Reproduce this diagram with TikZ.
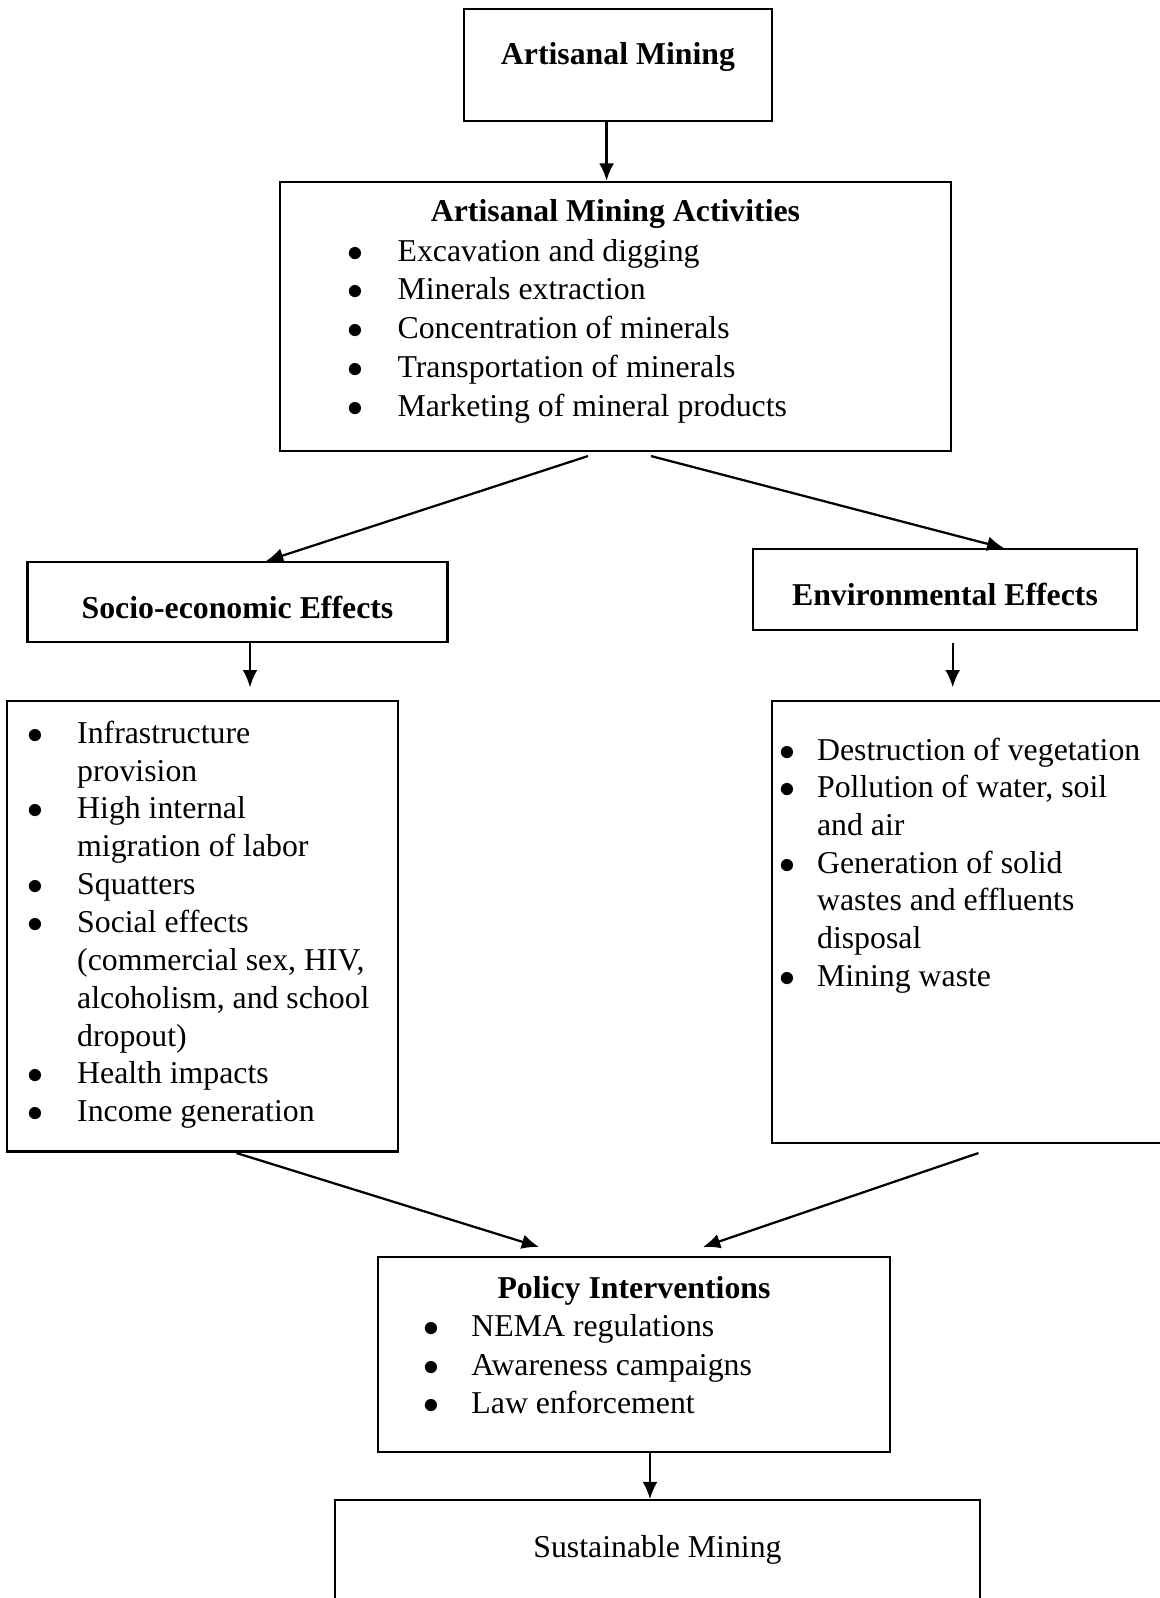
\documentclass[tikz,border=0pt]{standalone}
\usepackage{fontspec}
\setmainfont{Liberation Serif}
\usetikzlibrary{arrows.meta,calc}

\newcommand{\bitem}[2]{\hbox{\makebox[#1][l]{$\bullet$}#2}}
\newcommand{\citem}[2]{\hbox{\hspace*{#1}#2}}

\begin{document}
\begin{tikzpicture}[x=0.3774pt, y=-0.3774pt,
	every node/.style={inner sep=0pt, font=\fontsize{12}{14.4}\selectfont},
	title/.style={font=\fontsize{12}{14.4}\selectfont\bfseries},
	box/.style={rectangle, draw, line width=0.8pt},
	flow/.style={draw, line width=0.85pt, -{Latex[length=6.5pt,width=5.6pt]}}
]
\useasboundingbox (0,0) rectangle (1160,1598);
\clip (0,0) rectangle (1160,1598);
% boxes
\node (mining) [box, minimum width=116.2pt, minimum height=42.3pt] at (618, 65) {};
\node (activities) [box, minimum width=253.2pt, minimum height=101.5pt] at (615.5, 316.2) {};
\node (socio) [box, minimum width=158.5pt, minimum height=30.3pt] at (237.5, 602.2) {};
\node (env) [box, minimum width=144.9pt, minimum height=30.5pt] at (945, 589.7) {};
\node (sociolist) [box, minimum width=147.3pt, minimum height=170.1pt] at (202.5, 926.1) {};
\node (envlist) [box, minimum width=154.1pt, minimum height=167.0pt] at (975.9, 922) {};
\node (policy) [box, minimum width=193.2pt, minimum height=73.8pt] at (634, 1354.5) {};
\node (sustain) [box, minimum width=243.4pt, minimum height=45.1pt] at (657.5, 1560) {};
% texts
\node (miningtxt) [title, anchor=base] at (618, 64.3) {Artisanal Mining};
\node (acttitle) [title, anchor=base] at (615.5, 221.7) {Artisanal Mining Activities};
\node (actlist) [anchor=base west] at (346.7, 261) {\vtop{\baselineskip=14.68pt
	\bitem{19pt}{Excavation and digging}
	\bitem{19pt}{Minerals extraction}
	\bitem{19pt}{Concentration of minerals}
	\bitem{19pt}{Transportation of minerals}
	\bitem{19pt}{Marketing of mineral products}}};
\node (sociotxt) [title, anchor=base] at (237.5, 618.3) {Socio-economic Effects};
\node (envtxt) [title, anchor=base] at (945, 605) {Environmental Effects};
\node (sociolisttxt) [anchor=base west] at (27, 743.3) {\vtop{\baselineskip=14.28pt
	\bitem{18.75pt}{Infrastructure}
	\citem{18.75pt}{provision}
	\bitem{18.75pt}{High internal}
	\citem{18.75pt}{migration of labor}
	\bitem{18.75pt}{Squatters}
	\bitem{18.75pt}{Social effects}
	\citem{18.75pt}{(commercial sex, HIV,}
	\citem{18.75pt}{alcoholism, and school}
	\citem{18.75pt}{dropout)}
	\bitem{18.75pt}{Health impacts}
	\bitem{18.75pt}{Income generation}}};
\node (envlisttxt) [anchor=base west] at (778.7, 760) {\vtop{\baselineskip=14.23pt
	\bitem{14.3pt}{Destruction of vegetation}
	\bitem{14.3pt}{Pollution of water, soil}
	\citem{14.3pt}{and air}
	\bitem{14.3pt}{Generation of solid}
	\citem{14.3pt}{wastes and effluents}
	\citem{14.3pt}{disposal}
	\bitem{14.3pt}{Mining waste}}};
\node (policytitle) [title, anchor=base] at (634, 1298.3) {Policy Interventions};
\node (policylist) [anchor=base west] at (422.7, 1336.7) {\vtop{\baselineskip=14.45pt
	\bitem{18.2pt}{NEMA regulations}
	\bitem{18.2pt}{Awareness campaigns}
	\bitem{18.2pt}{Law enforcement}}};
\node (sustaintxt) [anchor=base] at (657.5, 1557) {Sustainable Mining};
% arrows
\draw[flow] ($(mining.south)+(-11.4,0)$) -- ($(activities.north)+(-8.9,0)$);
\draw[flow] ($(activities.south)+(-27.5,4.3)$) -- ($(socio.north)+(28.5,0)$);
\draw[flow] ($(activities.south)+(35.5,4.3)$) -- ($(env.north)+(59.4,0)$);
\draw[flow] ($(socio.south)+(12.5,0)$) -- ($(sociolist.north)+(47.5,-12.4)$);
\draw[flow] ($(env.south)+(7.7,11.7)$) -- ($(envlist.north)+(-23.2,-12.4)$);
\draw[flow] ($(sociolist.south)+(34,0.5)$) -- ($(policy.north)+(-95,-8.7)$);
\draw[flow] ($(envlist.south)+(2.6,8.7)$) -- ($(policy.north)+(69,-8.7)$);
\draw[flow] ($(policy.south)+(16,0)$) -- ($(sustain.north)+(-7.5,0)$);
\end{tikzpicture}
\end{document}
